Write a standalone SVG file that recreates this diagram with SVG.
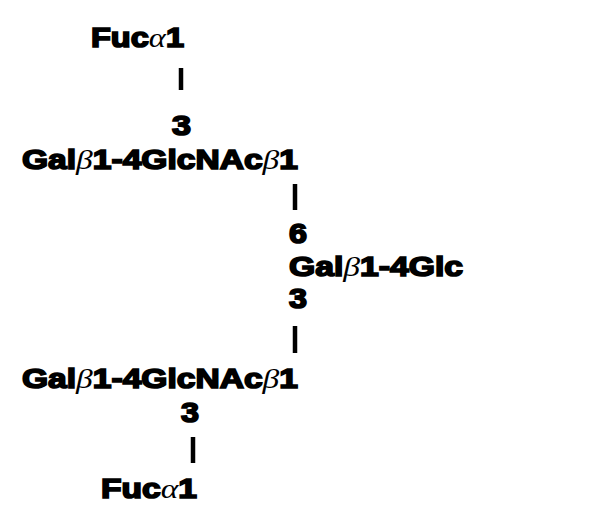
<svg xmlns="http://www.w3.org/2000/svg" width="597" height="512" viewBox="0 0 597 512">
<style>
.t{font-family:"Liberation Sans",Arial,sans-serif;font-weight:bold;font-size:28px;fill:#000;stroke:#000;stroke-width:1.7px;}
.g{font-family:"Liberation Serif","Times New Roman",serif;font-style:italic;font-weight:normal;stroke:none;}
.c line{stroke:#000;stroke-width:4.5;}
</style>
<rect width="597" height="512" fill="#fff"/>
<g class="c" id="connectors">
<line x1="181" y1="68" x2="181" y2="90"/>
<line x1="295" y1="184" x2="295" y2="210"/>
<line x1="295" y1="326" x2="295" y2="353"/>
<line x1="193" y1="437" x2="193" y2="463"/>
</g>
<g id="fuc-top"><text class="t" x="91" y="47" textLength="93" lengthAdjust="spacingAndGlyphs">Fuc<tspan class="g">α</tspan>1</text></g>
<g id="pos3-top"><text class="t" x="172" y="135" textLength="19" lengthAdjust="spacingAndGlyphs">3</text></g>
<g id="lacnac-top"><text class="t" x="22" y="169" textLength="276" lengthAdjust="spacingAndGlyphs">Gal<tspan class="g">β</tspan>1-4GlcNAc<tspan class="g">β</tspan>1</text></g>
<g id="lactose">
<text class="t" x="289" y="243" textLength="18" lengthAdjust="spacingAndGlyphs">6</text>
<text class="t" x="289" y="276" textLength="174" lengthAdjust="spacingAndGlyphs">Gal<tspan class="g">β</tspan>1-4Glc</text>
<text class="t" x="289" y="308" textLength="18" lengthAdjust="spacingAndGlyphs">3</text>
</g>
<g id="lacnac-bottom"><text class="t" x="22" y="388" textLength="276" lengthAdjust="spacingAndGlyphs">Gal<tspan class="g">β</tspan>1-4GlcNAc<tspan class="g">β</tspan>1</text></g>
<g id="pos3-bottom"><text class="t" x="181" y="422" textLength="18" lengthAdjust="spacingAndGlyphs">3</text></g>
<g id="fuc-bottom"><text class="t" x="101" y="498" textLength="96" lengthAdjust="spacingAndGlyphs">Fuc<tspan class="g">α</tspan>1</text></g>
</svg>
